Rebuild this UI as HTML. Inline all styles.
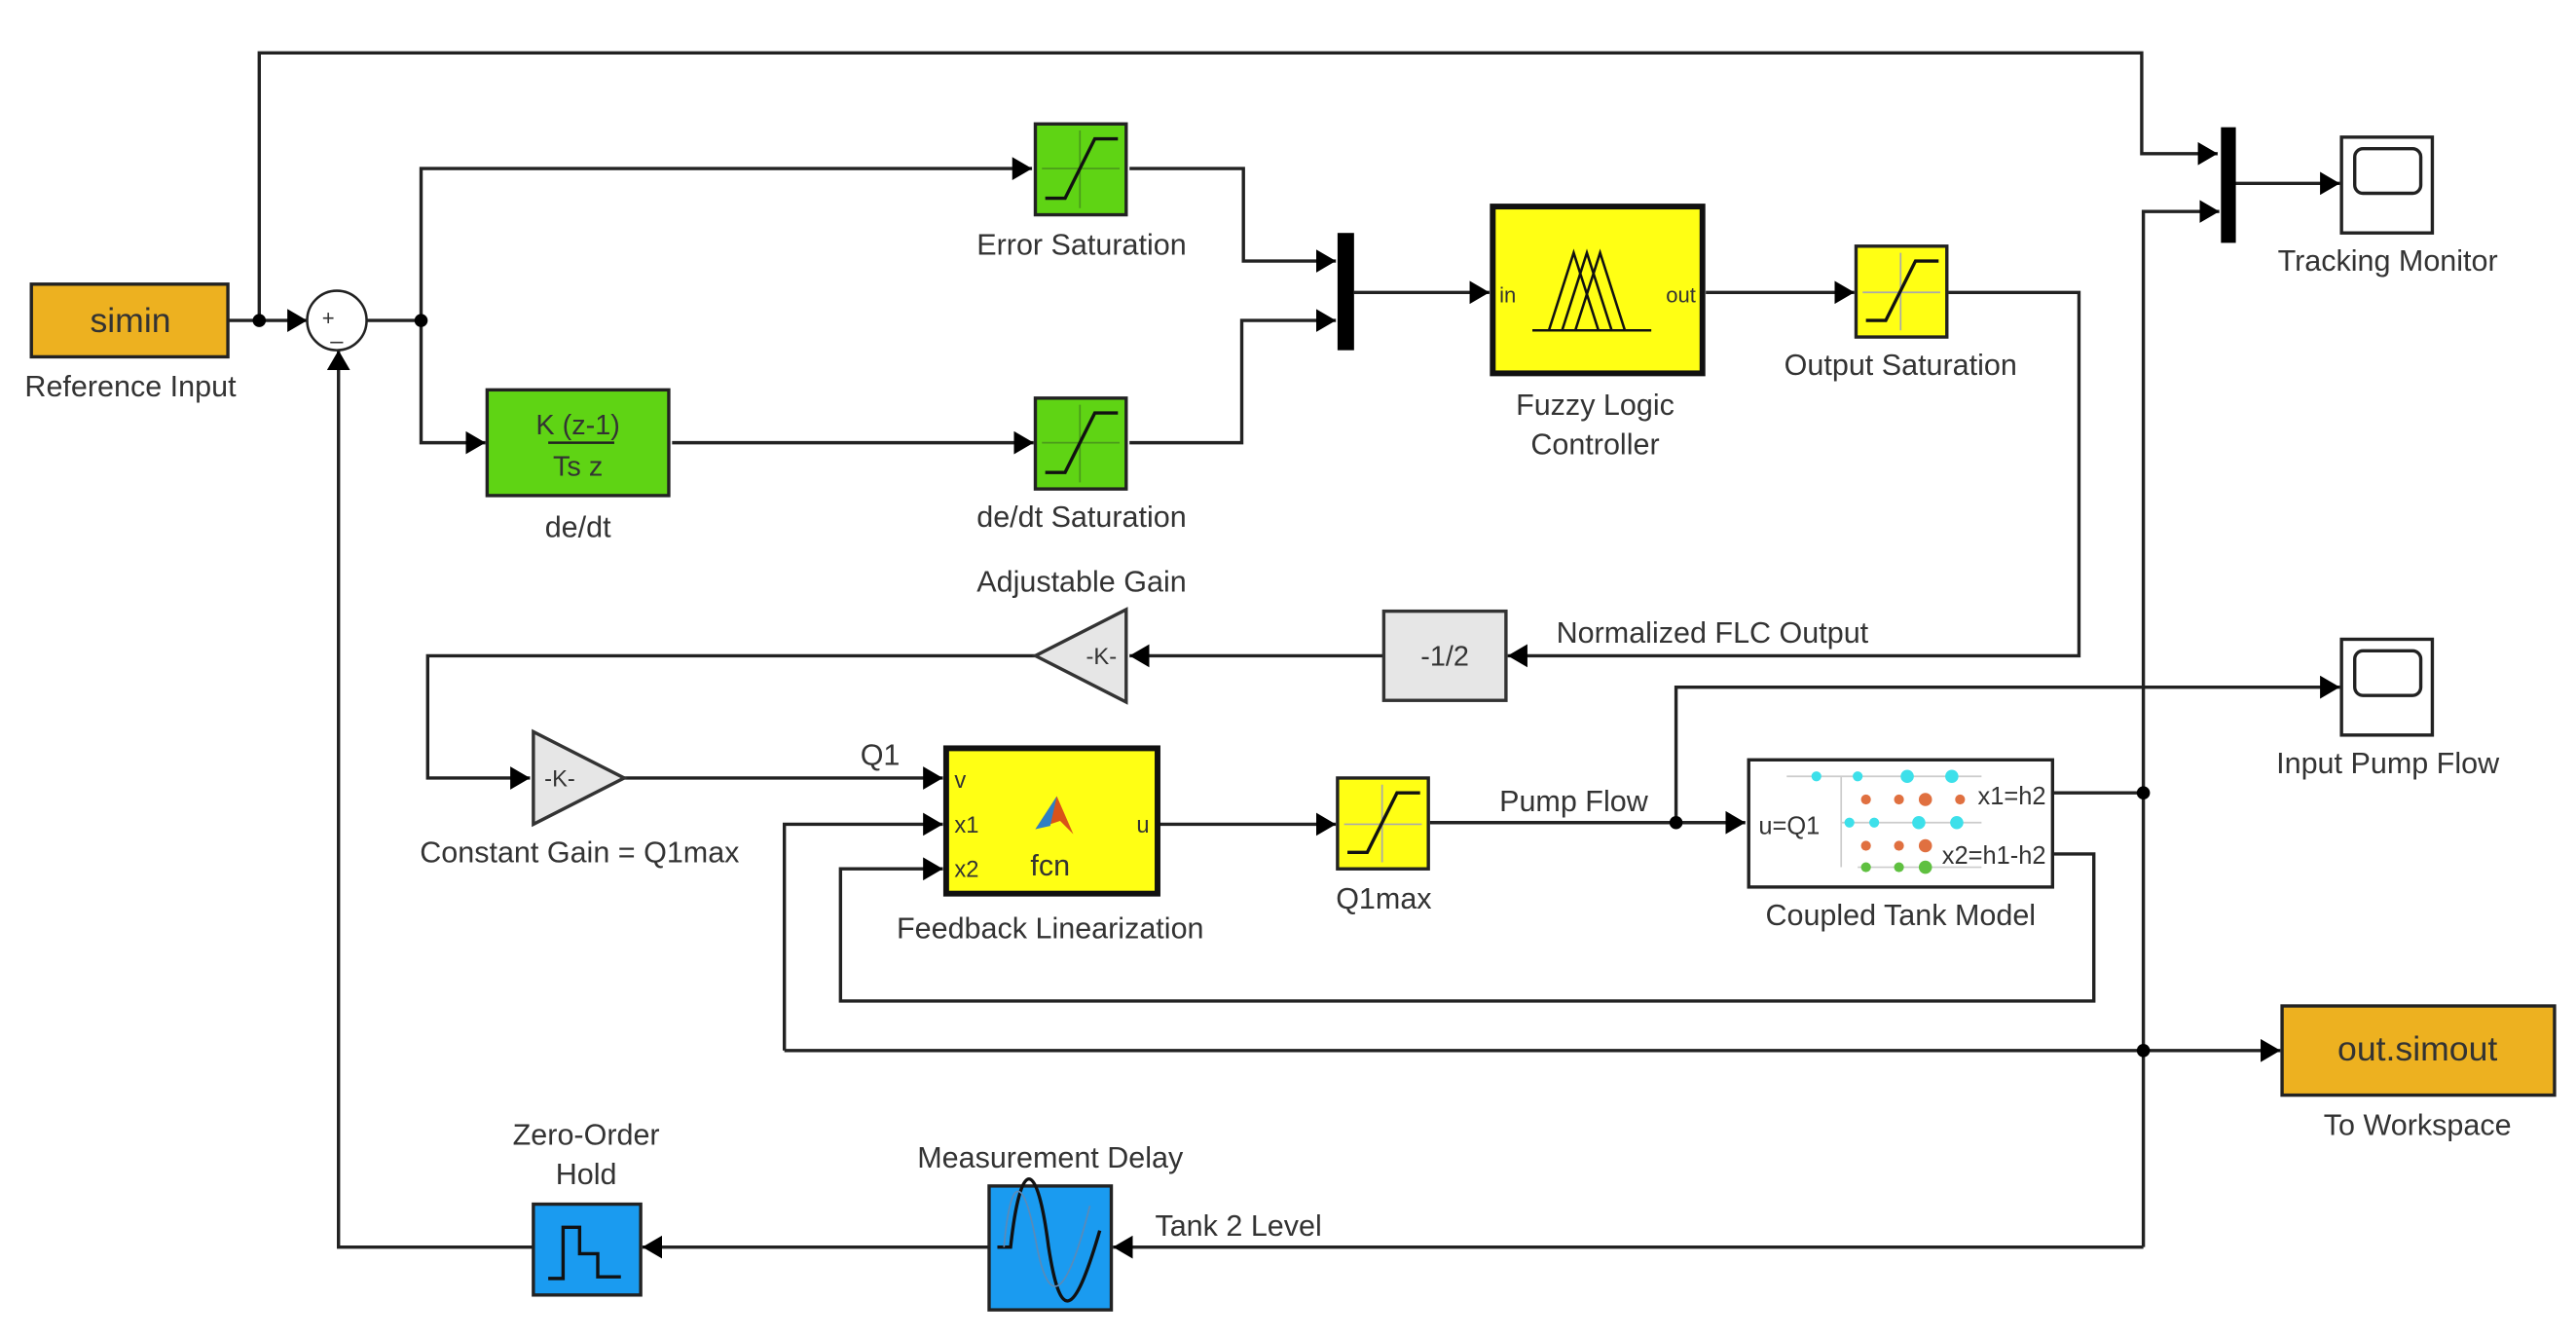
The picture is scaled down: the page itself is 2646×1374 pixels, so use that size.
<!DOCTYPE html>
<html><head><meta charset="utf-8"><style>
html,body{margin:0;padding:0;background:#fff;}
svg{display:block;}
text{font-family:"Liberation Sans",sans-serif;fill:#333;}
</style></head><body>
<svg width="2646" height="1374" viewBox="0 0 1560 810" xmlns="http://www.w3.org/2000/svg">
<defs>
<marker id="a" markerUnits="userSpaceOnUse" markerWidth="14" markerHeight="14" refX="12" refY="7" orient="auto">
<path d="M0,0 L12,7 L0,14 z" fill="#000"/>
</marker>
</defs>
<g fill="none" stroke="#222" stroke-width="2">
<!-- top line -->
<polyline points="157,194 157,32 1297,32 1297,93 1343,93" marker-end="url(#a)"/>
<line x1="138" y1="194" x2="186" y2="194" marker-end="url(#a)"/>
<polyline points="222,194 255,194 255,102 625,102" marker-end="url(#a)"/>
<polyline points="255,194 255,268 294,268" marker-end="url(#a)"/>
<line x1="407" y1="268" x2="626" y2="268" marker-end="url(#a)"/>
<polyline points="684,102 753,102 753,158 809,158" marker-end="url(#a)"/>
<polyline points="684,268 752,268 752,194 809,194" marker-end="url(#a)"/>
<line x1="820" y1="177" x2="902" y2="177" marker-end="url(#a)"/>
<line x1="1033" y1="177" x2="1123" y2="177" marker-end="url(#a)"/>
<polyline points="1180,177 1259,177 1259,397 913,397" marker-end="url(#a)"/>
<line x1="838" y1="397" x2="684" y2="397" marker-end="url(#a)"/>
<polyline points="627,397 259,397 259,471 321,471" marker-end="url(#a)"/>
<line x1="378" y1="471" x2="571" y2="471" marker-end="url(#a)"/>
<line x1="702" y1="499" x2="809" y2="499" marker-end="url(#a)"/>
<line x1="866" y1="498" x2="1057" y2="498" marker-end="url(#a)"/>
<polyline points="1015,498 1015,416 1417,416" marker-end="url(#a)"/>
<polyline points="1244,480 1298,480"/>
<polyline points="1298,755 1298,128 1344,128" marker-end="url(#a)"/>
<polyline points="1244,517 1268,517 1268,606 509,606 509,526 571,526" marker-end="url(#a)"/>
<line x1="475" y1="636" x2="1381" y2="636" marker-end="url(#a)"/>
<polyline points="475,636 475,499 571,499" marker-end="url(#a)"/>
<line x1="1353" y1="111" x2="1417" y2="111" marker-end="url(#a)"/>
<line x1="1298" y1="755" x2="674" y2="755" marker-end="url(#a)"/>
<line x1="599" y1="755" x2="389" y2="755" marker-end="url(#a)"/>
<polyline points="323,755 205,755 205,212" marker-end="url(#a)"/>
</g>
<!-- dots -->
<g fill="#000">
<circle cx="157" cy="194" r="4"/><circle cx="255" cy="194" r="4"/>
<circle cx="1015" cy="498" r="4"/><circle cx="1298" cy="480" r="4"/><circle cx="1298" cy="636" r="4"/>
</g>
<!-- simin -->
<rect x="19" y="172" width="119" height="44" fill="#EDB120" stroke="#222" stroke-width="2"/>
<text x="79" y="201" font-size="21" text-anchor="middle" fill="#222">simin</text>
<text x="79" y="240" font-size="18" text-anchor="middle">Reference Input</text>
<!-- sum -->
<circle cx="204" cy="194" r="18" fill="#fff" stroke="#222" stroke-width="1.5"/>
<text x="195" y="197" font-size="13">+</text>
<text x="200" y="211" font-size="14">–</text>
<!-- saturations green -->
<g>
<rect x="627" y="75" width="55" height="55" fill="#5FD414" stroke="#222" stroke-width="2"/>
<line x1="631" y1="102" x2="678" y2="102" stroke="#4a9a1a" stroke-width="1"/><line x1="654" y1="79" x2="654" y2="126" stroke="#4a9a1a" stroke-width="1"/>
<polyline points="633,120 645,120 663,84 677,84" fill="none" stroke="#111" stroke-width="2"/>
<rect x="627" y="241" width="55" height="55" fill="#5FD414" stroke="#222" stroke-width="2"/>
<line x1="631" y1="268" x2="678" y2="268" stroke="#4a9a1a" stroke-width="1"/><line x1="654" y1="245" x2="654" y2="292" stroke="#4a9a1a" stroke-width="1"/>
<polyline points="633,286 645,286 663,250 677,250" fill="none" stroke="#111" stroke-width="2"/>
</g>
<text x="655" y="154" font-size="18" text-anchor="middle">Error Saturation</text>
<text x="655" y="319" font-size="18" text-anchor="middle">de/dt Saturation</text>
<!-- de/dt -->
<rect x="295" y="236" width="110" height="64" fill="#5FD414" stroke="#222" stroke-width="2"/>
<text x="350" y="263" font-size="17" text-anchor="middle" fill="#222">K (z-1)</text>
<line x1="332" y1="268" x2="372" y2="268" stroke="#222" stroke-width="1.5"/>
<text x="350" y="288" font-size="17" text-anchor="middle" fill="#222">Ts z</text>
<text x="350" y="325" font-size="18" text-anchor="middle">de/dt</text>
<!-- mux -->
<rect x="810" y="141" width="10" height="71" fill="#000"/>
<rect x="1345" y="77" width="9" height="70" fill="#000"/>
<!-- fuzzy -->
<rect x="904" y="125" width="127" height="101" fill="#FFFF14" stroke="#111" stroke-width="3.5"/>
<text x="908" y="183" font-size="13" fill="#555">in</text>
<text x="1027" y="183" font-size="13" fill="#555" text-anchor="end">out</text>
<g fill="none" stroke="#111" stroke-width="1.5">
<line x1="928" y1="200" x2="1000" y2="200"/>
<polyline points="938,200 953,153 968,200"/><polyline points="946,200 961,153 976,200"/><polyline points="954,200 969,153 984,200"/>
</g>
<text x="966" y="251" font-size="18" text-anchor="middle">Fuzzy Logic</text>
<text x="966" y="275" font-size="18" text-anchor="middle">Controller</text>
<!-- output sat -->
<rect x="1124" y="149" width="55" height="55" fill="#FFFF14" stroke="#222" stroke-width="2"/>
<line x1="1128" y1="177" x2="1175" y2="177" stroke="#aaa" stroke-width="1"/><line x1="1151" y1="153" x2="1151" y2="200" stroke="#aaa" stroke-width="1"/>
<polyline points="1130,194 1142,194 1160,158 1174,158" fill="none" stroke="#111" stroke-width="2"/>
<text x="1151" y="227" font-size="18" text-anchor="middle">Output Saturation</text>
<!-- scopes -->
<rect x="1418" y="83" width="55" height="58" fill="#fff" stroke="#222" stroke-width="2"/>
<rect x="1426" y="90" width="40" height="27" rx="5" fill="#fff" stroke="#222" stroke-width="2"/>
<text x="1446" y="164" font-size="18" text-anchor="middle">Tracking Monitor</text>
<rect x="1418" y="387" width="55" height="58" fill="#fff" stroke="#222" stroke-width="2"/>
<rect x="1426" y="394" width="40" height="27" rx="5" fill="#fff" stroke="#222" stroke-width="2"/>
<text x="1446" y="468" font-size="18" text-anchor="middle">Input Pump Flow</text>
<!-- -1/2 -->
<rect x="838" y="370" width="74" height="54" fill="#e6e6e6" stroke="#333" stroke-width="2"/>
<text x="875" y="403" font-size="17" text-anchor="middle" fill="#222">-1/2</text>
<text x="1037" y="389" font-size="18" text-anchor="middle">Normalized FLC Output</text>
<!-- adjustable gain -->
<polygon points="627,397 682,369 682,425" fill="#e6e6e6" stroke="#333" stroke-width="2"/>
<text x="667" y="402" font-size="14" text-anchor="middle" fill="#222">-K-</text>
<text x="655" y="358" font-size="18" text-anchor="middle">Adjustable Gain</text>
<!-- constant gain -->
<polygon points="378,471 323,443 323,499" fill="#e6e6e6" stroke="#333" stroke-width="2"/>
<text x="339" y="476" font-size="14" text-anchor="middle" fill="#222">-K-</text>
<text x="351" y="522" font-size="18" text-anchor="middle">Constant Gain = Q1max</text>
<text x="533" y="463" font-size="18" text-anchor="middle">Q1</text>
<!-- FL -->
<rect x="573" y="453" width="128" height="88" fill="#FFFF14" stroke="#111" stroke-width="3.5"/>
<text x="578" y="477" font-size="14" fill="#333">v</text>
<text x="578" y="504" font-size="14" fill="#333">x1</text>
<text x="578" y="531" font-size="14" fill="#333">x2</text>
<text x="696" y="504" font-size="14" fill="#333" text-anchor="end">u</text>
<path d="M627,502 L640,482 L650,505 L642,497 Z" fill="#D95319"/>
<path d="M627,502 L640,482 L636,500 Z" fill="#2E7FC4"/>
<text x="636" y="530" font-size="18" text-anchor="middle" fill="#333">fcn</text>
<text x="636" y="568" font-size="18" text-anchor="middle">Feedback Linearization</text>
<!-- Q1max -->
<rect x="810" y="471" width="55" height="55" fill="#FFFF14" stroke="#222" stroke-width="2"/>
<line x1="814" y1="499" x2="861" y2="499" stroke="#aaa" stroke-width="1"/><line x1="837" y1="475" x2="837" y2="522" stroke="#aaa" stroke-width="1"/>
<polyline points="816,516 828,516 846,480 860,480" fill="none" stroke="#111" stroke-width="2"/>
<text x="838" y="550" font-size="18" text-anchor="middle">Q1max</text>
<text x="953" y="491" font-size="18" text-anchor="middle">Pump Flow</text>
<!-- coupled tank -->
<rect x="1059" y="460" width="184" height="77" fill="#fff" stroke="#222" stroke-width="2"/>
<g stroke="#ccc" stroke-width="1" fill="none"><line x1="1082" y1="470" x2="1200" y2="470"/><line x1="1115" y1="498" x2="1200" y2="498"/><line x1="1115" y1="470" x2="1115" y2="525"/><line x1="1125" y1="525" x2="1200" y2="525"/></g>
<g fill="#3de0ea"><circle cx="1100" cy="470" r="3"/><circle cx="1125" cy="470" r="3"/><circle cx="1155" cy="470" r="4"/><circle cx="1182" cy="470" r="4"/><circle cx="1120" cy="498" r="3"/><circle cx="1135" cy="498" r="3"/><circle cx="1162" cy="498" r="4"/><circle cx="1185" cy="498" r="4"/></g>
<g fill="#e07040"><circle cx="1130" cy="484" r="3"/><circle cx="1150" cy="484" r="3"/><circle cx="1166" cy="484" r="4"/><circle cx="1187" cy="484" r="3"/><circle cx="1130" cy="512" r="3"/><circle cx="1150" cy="512" r="3"/><circle cx="1166" cy="512" r="4"/></g>
<g fill="#5fc040"><circle cx="1130" cy="525" r="3"/><circle cx="1150" cy="525" r="3"/><circle cx="1166" cy="525" r="4"/></g>
<text x="1065" y="505" font-size="15" fill="#333">u=Q1</text>
<text x="1239" y="487" font-size="15" fill="#333" text-anchor="end">x1=h2</text>
<text x="1239" y="523" font-size="15" fill="#333" text-anchor="end">x2=h1-h2</text>
<text x="1151" y="560" font-size="18" text-anchor="middle">Coupled Tank Model</text>
<!-- to workspace -->
<rect x="1382" y="609" width="165" height="54" fill="#EDB120" stroke="#222" stroke-width="2"/>
<text x="1464" y="642" font-size="21" text-anchor="middle" fill="#222">out.simout</text>
<text x="1464" y="687" font-size="18" text-anchor="middle">To Workspace</text>
<!-- delay -->
<rect x="599" y="718" width="74" height="75" fill="#1A9BF0" stroke="#222" stroke-width="2"/>
<path d="M604,755 L612,755 C618,700 628,700 635,755 C642,800 650,800 666,745" fill="none" stroke="#111" stroke-width="2"/>
<path d="M608,755 C612,710 620,710 628,755 C635,790 645,790 660,730" fill="none" stroke="#5a8ab8" stroke-width="1"/>
<text x="636" y="707" font-size="18" text-anchor="middle">Measurement Delay</text>
<text x="750" y="748" font-size="18" text-anchor="middle">Tank 2 Level</text>
<!-- ZOH -->
<rect x="323" y="729" width="65" height="55" fill="#1A9BF0" stroke="#222" stroke-width="2"/>
<polyline points="332,774 341,774 341,743 351,743 351,759 362,759 362,773 376,773" fill="none" stroke="#111" stroke-width="2"/>
<text x="355" y="693" font-size="18" text-anchor="middle">Zero-Order</text>
<text x="355" y="717" font-size="18" text-anchor="middle">Hold</text>
</svg>
</body></html>
